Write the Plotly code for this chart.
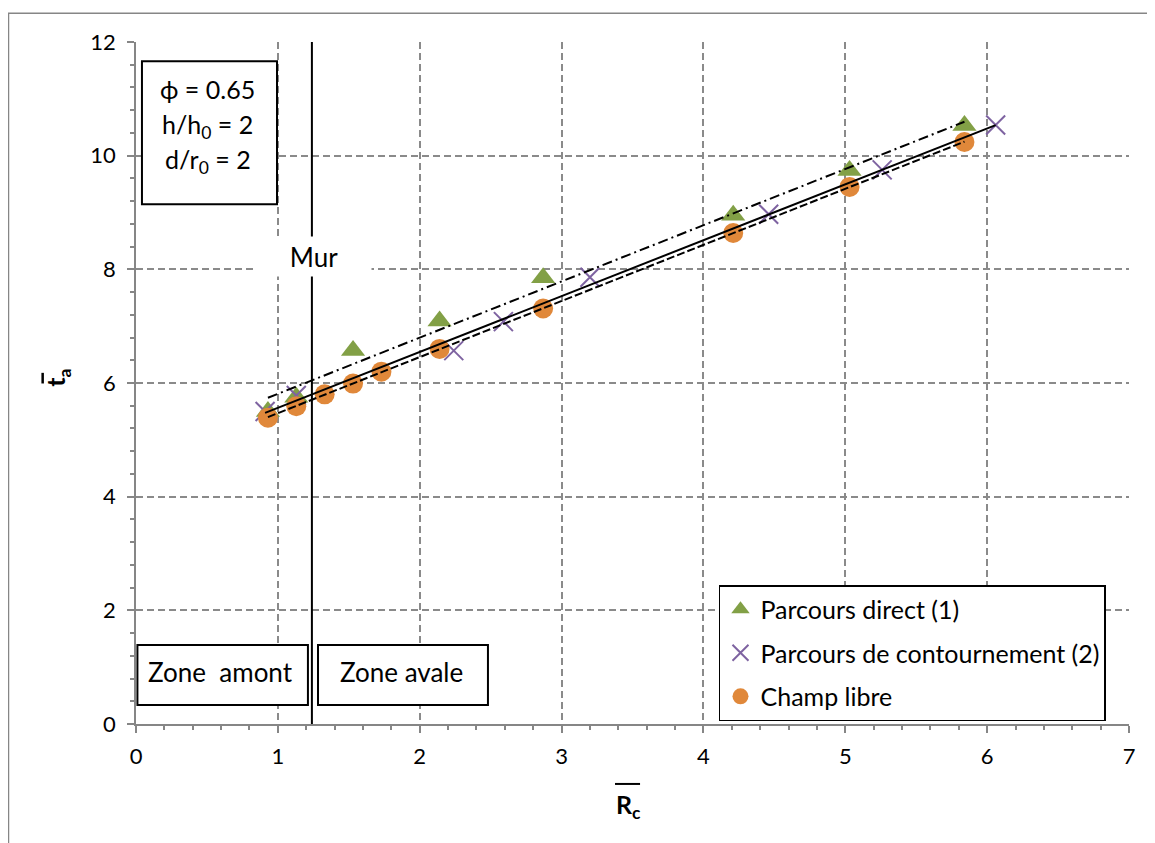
import numpy as np
import plotly.graph_objects as go

# ---- data ----
x_direct = [0.93, 1.13, 1.53, 2.14, 2.87, 4.21, 5.03, 5.84]
y_direct = [5.50, 5.75, 6.57, 7.09, 7.85, 8.95, 9.74, 10.53]

x_contour = [0.91, 1.13, 2.24, 2.59, 3.20, 4.46, 5.26, 6.06]
y_contour = [5.50, 5.78, 6.57, 7.08, 7.86, 8.97, 9.75, 10.54]

x_libre = [0.93, 1.13, 1.33, 1.53, 1.73, 2.14, 2.87, 4.21, 5.03, 5.84]
y_libre = [5.39, 5.59, 5.80, 5.99, 6.20, 6.60, 7.31, 8.64, 9.45, 10.24]

mur_x = 1.24
x_ticks = [0, 1, 2, 3, 4, 5, 6, 7]
y_ticks = [0, 2, 4, 6, 8, 10, 12]

FONT = "Lato"
GRID = "#8a8a8a"
AX = "#868686"
C_GREEN = "#82A046"
C_PURPLE = "#7E63A1"
C_ORANGE = "#E0883A"

fig = go.Figure()

fig.add_trace(go.Scatter(x=x_direct, y=y_direct, mode="markers", name="Parcours direct (1)",
                         legendgroup="a",
                         marker=dict(symbol="triangle-up", size=21, color=C_GREEN)))
fig.add_trace(go.Scatter(x=x_contour, y=y_contour, mode="markers", name="Parcours de contournement (2)",
                         legendgroup="b",
                         marker=dict(symbol="x-thin", size=19, color=C_PURPLE,
                                     line=dict(color=C_PURPLE, width=2))))
fig.add_trace(go.Scatter(x=x_libre, y=y_libre, mode="markers", name="Champ libre",
                         legendgroup="c",
                         marker=dict(symbol="circle", size=20, color=C_ORANGE)))

def trend(xs, ys):
    a, b = np.polyfit(xs, ys, 1)
    xx = np.array([min(xs), max(xs)])
    return xx, a * xx + b

for xs, ys, dash in [(x_direct, y_direct, "10px,4px,2px,4px"),
                     (x_contour, y_contour, "solid"),
                     (x_libre, y_libre, "8px,3px")]:
    tx, ty = trend(xs, ys)
    fig.add_trace(go.Scatter(x=tx, y=ty, mode="lines", showlegend=False, hoverinfo="skip",
                             line=dict(color="black", width=2, dash=dash)))

shapes = []
# outer chart border
shapes.append(dict(type="rect", xref="paper", yref="paper", x0=-0.1284, x1=1.06, y0=-0.25, y1=1.042,
                   line=dict(color=AX, width=1.5), fillcolor="rgba(0,0,0,0)", layer="below"))
# wall line
shapes.append(dict(type="line", xref="x", yref="y", x0=mur_x, x1=mur_x, y0=-0.07, y1=12,
                   line=dict(color="black", width=2)))
# parameter box
shapes.append(dict(type="rect", xref="x", yref="y", x0=0.042, x1=0.994, y0=9.145, y1=11.66,
                   line=dict(color="black", width=2), fillcolor="white"))
# zone boxes
shapes.append(dict(type="rect", xref="x", yref="y", x0=0.01, x1=1.212, y0=0.334, y1=1.389,
                   line=dict(color="black", width=2), fillcolor="white"))
shapes.append(dict(type="rect", xref="x", yref="y", x0=1.283, x1=2.481, y0=0.334, y1=1.389,
                   line=dict(color="black", width=2), fillcolor="white"))
# overlines on axis titles
shapes.append(dict(type="line", xref="paper", yref="paper", x0=0.4824, x1=0.5076, y0=-0.0879, y1=-0.0879,
                   line=dict(color="black", width=2)))
shapes.append(dict(type="line", xref="paper", yref="paper", x0=-0.0940, x1=-0.0940, y0=0.4993, y1=0.5149,
                   line=dict(color="black", width=2.5)))

ann = []
tf = dict(family=FONT, size=25, color="black")
zf = dict(family=FONT, size=26, color="black")
ann.append(dict(x=0.504, y=11.17, xref="x", yref="y", text="ϕ = 0.65", showarrow=False, font=tf))
ann.append(dict(x=0.504, y=10.52, xref="x", yref="y", text="h/h<sub>0</sub> = 2", showarrow=False, font=tf))
ann.append(dict(x=0.504, y=9.90, xref="x", yref="y", text="d/r<sub>0</sub> = 2", showarrow=False, font=tf))
ann.append(dict(x=0.599, y=0.915, xref="x", yref="y", text="Zone  amont", showarrow=False, font=zf))
ann.append(dict(x=1.875, y=0.915, xref="x", yref="y", text="Zone avale", showarrow=False, font=zf))
ann.append(dict(x=1.255, y=8.23, xref="x", yref="y", text="Mur", showarrow=False,
                font=dict(family=FONT, size=26, color="black"),
                bgcolor="white", width=114, height=39, borderpad=0))
# axis titles
ann.append(dict(x=0.4955, y=-0.120, xref="paper", yref="paper", text="<b>R<sub>c</sub></b>",
                showarrow=False, font=dict(family=FONT, size=25, color="black"), yanchor="middle"))
ann.append(dict(x=-0.079, y=0.507, xref="paper", yref="paper", text="<b>t<sub>a</sub></b>",
                showarrow=False, textangle=-90, font=dict(family=FONT, size=25, color="black"),
                xanchor="center", yanchor="middle"))

fig.update_layout(
    width=1155, height=843,
    margin=dict(l=128, r=34, t=34, b=127),
    paper_bgcolor="white", plot_bgcolor="white",
    font=dict(family=FONT, size=22, color="black"),
    shapes=shapes, annotations=ann,
    legend=dict(x=0.5871, y=0.2037, xanchor="left", yanchor="top",
                bgcolor="white", bordercolor="black", borderwidth=1.5,
                font=dict(family=FONT, size=25, color="black"),
                traceorder="grouped", tracegroupgap=8, itemwidth=30),
)

fig.update_xaxes(range=[0, 7], tickvals=x_ticks, ticktext=[str(v) for v in x_ticks],
                 showgrid=True, gridcolor=GRID, griddash="7px,4px", gridwidth=2,
                 showline=True, linecolor=AX, linewidth=1.5, zeroline=False,
                 ticks="outside", ticklen=7, tickcolor=AX, tickwidth=1.5,
                 ticklabelstandoff=5, tickfont=dict(family=FONT, size=22, color="black"),
                 minor=dict(dtick=0.2, ticks="outside", ticklen=4, tickcolor=AX, tickwidth=1.5, showgrid=False))
fig.update_yaxes(range=[0, 12], tickvals=y_ticks, ticktext=[str(v) for v in y_ticks],
                 showgrid=True, gridcolor=GRID, griddash="7px,4px", gridwidth=2,
                 showline=True, linecolor=AX, linewidth=1.5, zeroline=False,
                 ticks="outside", ticklen=7, tickcolor=AX, tickwidth=1.5,
                 ticklabelstandoff=7, tickfont=dict(family=FONT, size=22, color="black"),
                 minor=dict(dtick=0.4, ticks="outside", ticklen=4, tickcolor=AX, tickwidth=1.5, showgrid=False))

fig.write_html("out.html")
